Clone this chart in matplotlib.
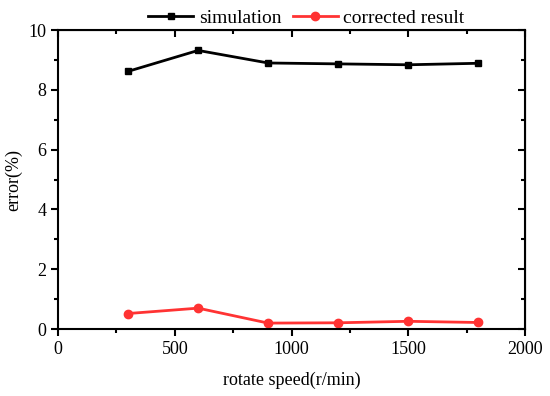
import matplotlib
matplotlib.use('Agg')
import matplotlib.pyplot as plt
from matplotlib.ticker import MultipleLocator

# data
speed = [300, 600, 900, 1200, 1500, 1800]
simulation = [8.62, 9.32, 8.90, 8.87, 8.84, 8.89]
corrected = [0.52, 0.70, 0.20, 0.21, 0.26, 0.22]

plt.rcParams['font.family'] = ['Liberation Serif', 'DejaVu Serif']
plt.rcParams['font.size'] = 12

fig = plt.figure(figsize=(5.5, 3.96), dpi=100)
ax = fig.add_axes([0.1055, 0.169, 0.849, 0.755])

ax.plot(speed, simulation, color='black', marker='s', markersize=5, lw=2, label='simulation')
ax.plot(speed, corrected, color='#ff3333', marker='o', markersize=6, lw=2, label='corrected result')

ax.set_xlim(0, 2000)
ax.set_ylim(0, 10)
ax.xaxis.set_major_locator(MultipleLocator(500))
ax.xaxis.set_minor_locator(MultipleLocator(250))
ax.yaxis.set_major_locator(MultipleLocator(2))
ax.yaxis.set_minor_locator(MultipleLocator(1))

for s in ax.spines.values():
    s.set_linewidth(1.5)
ax.tick_params(which='both', direction='out', width=1.5, labelsize=13)
ax.tick_params(which='major', length=5)
ax.tick_params(which='minor', length=3)
# mirrored ticks pointing inward on top/right
ax2 = ax.secondary_xaxis('top')
ax2.xaxis.set_major_locator(MultipleLocator(500))
ax2.xaxis.set_minor_locator(MultipleLocator(250))
ax2.tick_params(which='both', direction='in', width=1.5, labeltop=False)
ax2.tick_params(which='major', length=5)
ax2.tick_params(which='minor', length=3)
ay2 = ax.secondary_yaxis('right')
ay2.yaxis.set_major_locator(MultipleLocator(2))
ay2.yaxis.set_minor_locator(MultipleLocator(1))
ay2.tick_params(which='both', direction='in', width=1.5, labelright=False)
ay2.tick_params(which='major', length=5)
ay2.tick_params(which='minor', length=3)

ax.set_xlabel('rotate speed(r/min)', fontsize=13, labelpad=10)
ax.set_ylabel('error(%)', fontsize=13)

ax.legend(loc='lower center', bbox_to_anchor=(0.532, 0.985), ncol=2, frameon=False,
          fontsize=14, handlelength=2.3, columnspacing=0.6, handletextpad=0.3,
          borderaxespad=0)

fig.savefig('out.png', dpi=100)
